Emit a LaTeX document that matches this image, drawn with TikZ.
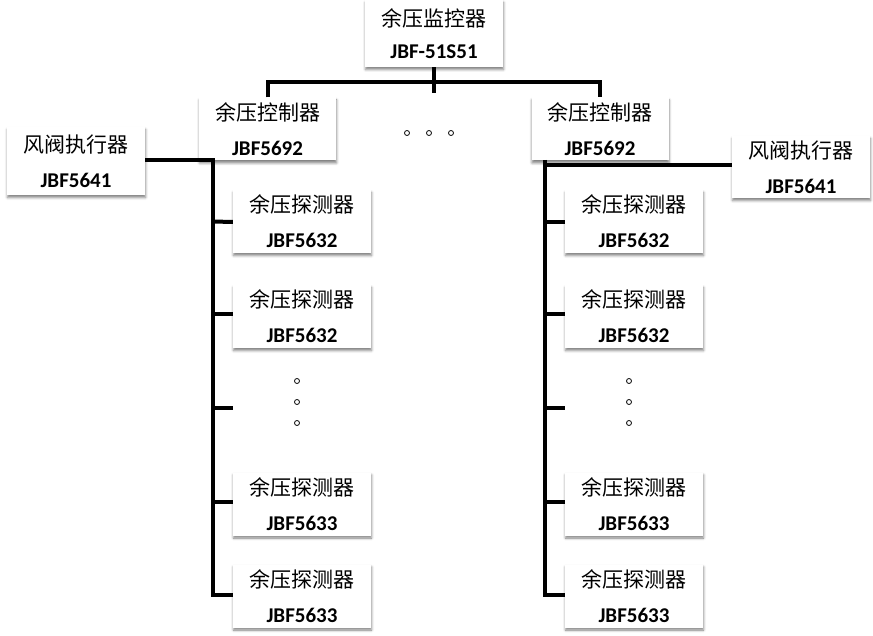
\documentclass[tikz,border=0pt]{standalone}
\usepackage{fontspec}
\setmainfont{Carlito}
\newfontfamily\cjk{Noto Sans CJK SC}
\usetikzlibrary{shadows.blur}
\begin{document}
\begin{tikzpicture}[x=1pt,y=-1pt,
  box/.style={rectangle, fill=white, minimum width=138pt, minimum height=63pt,
    inner sep=0pt, align=center, font=\fontsize{21}{35}\selectfont\bfseries,
    blur shadow={shadow xshift=0.5pt, shadow yshift=-2.5pt,
      shadow blur radius=2.5pt, shadow opacity=50}},
  bus/.style={line width=4pt, black},
  dotc/.style={draw, line width=0.8pt, circle, minimum size=5pt, inner sep=0pt}]
\useasboundingbox (0,0) rectangle (873,636);
% boxes
\node[box, minimum height=67pt, font=\fontsize{21}{32}\selectfont\bfseries] (top) at (434,33.5) {{\cjk\mdseries 余压监控器}\\JBF-51S51};
\node[box, minimum width=137pt] (lctrl) at (267.5,129) {{\cjk\mdseries 余压控制器}\\JBF5692};
\node[box, minimum width=137pt] (rctrl) at (600,129) {{\cjk\mdseries 余压控制器}\\JBF5692};
\node[box, minimum height=68pt] (lvalve) at (76,161) {{\cjk\mdseries 风阀执行器}\\JBF5641};
\node[box, minimum height=62pt] (rvalve) at (801,167) {{\cjk\mdseries 风阀执行器}\\JBF5641};
\node[box] (ld1) at (302,221.5) {{\cjk\mdseries 余压探测器}\\JBF5632};
\node[box] (ld2) at (302,316.5) {{\cjk\mdseries 余压探测器}\\JBF5632};
\node[box] (ld3) at (302,504) {{\cjk\mdseries 余压探测器}\\JBF5633};
\node[box] (ld4) at (302,596) {{\cjk\mdseries 余压探测器}\\JBF5633};
\node[box] (rd1) at (634,221.5) {{\cjk\mdseries 余压探测器}\\JBF5632};
\node[box] (rd2) at (634,316.5) {{\cjk\mdseries 余压探测器}\\JBF5632};
\node[box] (rd3) at (634,504) {{\cjk\mdseries 余压探测器}\\JBF5633};
\node[box] (rd4) at (634,596) {{\cjk\mdseries 余压探测器}\\JBF5633};
% dots
\node[dotc] (h1) at (407,133) {};
\node[dotc] (h2) at (429,133) {};
\node[dotc] (h3) at (451,133) {};
\node[dotc] (lv1) at (297,381) {};
\node[dotc] (lv2) at (297,402) {};
\node[dotc] (lv3) at (297,423) {};
\node[dotc] (rv1) at (629,381) {};
\node[dotc] (rv2) at (629,402) {};
\node[dotc] (rv3) at (629,423) {};
% coordinates
\coordinate (busL) at (267.5,82);
\coordinate (busR) at (600,82);
\coordinate (busM) at (434,93);
\coordinate (lTop) at (213,160);
\coordinate (lBot) at (213,595);
\coordinate (rTop) at (545,160);
\coordinate (rBot) at (545,595);
\coordinate (lDots) at (233,408);
\coordinate (rDots) at (565,408);
% connectors
\draw[bus] (top.south) -- (busM);
\draw[bus] (lctrl.north) -- (busL) -- (busR) -- (rctrl.north);
\draw[bus] (lvalve.east |- lTop) -- (lTop) -- (lBot) -- (ld4.west |- lBot);
\draw[bus] (lTop |- ld1.west) -- (ld1.west |- 0,222);
\draw[bus] (213,314) -- (ld2.west |- 0,314);
\draw[bus] (213,408) -- (lDots);
\draw[bus] (213,502) -- (ld3.west |- 0,502);
\draw[bus] (rvalve.west |- 0,165) -- (545,165);
\draw[bus] (rTop) -- (rBot) -- (rd4.west |- rBot);
\draw[bus] (545,222) -- (rd1.west |- 0,222);
\draw[bus] (545,314) -- (rd2.west |- 0,314);
\draw[bus] (545,408) -- (rDots);
\draw[bus] (545,502) -- (rd3.west |- 0,502);
\end{tikzpicture}
\end{document}
